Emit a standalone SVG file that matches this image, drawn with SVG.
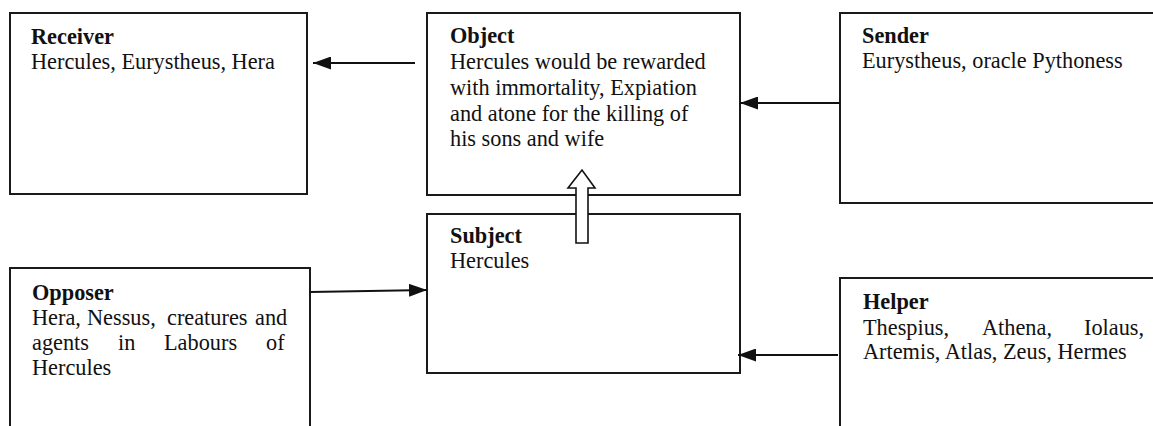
<svg xmlns="http://www.w3.org/2000/svg" width="1153" height="426" viewBox="0 0 1153 426">
<style>
.box{fill:#fff;stroke:#1a1a1a;stroke-width:2}
.t{font-family:"Liberation Serif","Times New Roman",serif;font-size:22.3px;fill:#111}
.b{font-weight:bold}
.ln{stroke:#111;stroke-width:2;fill:none}
</style>
<defs>
<marker id="ah" viewBox="0 0 18 13" refX="18" refY="6.5" markerWidth="18" markerHeight="13" markerUnits="userSpaceOnUse" orient="auto">
<path d="M0,0 L18,6.5 L0,13 Z" fill="#111"/>
</marker>
</defs>
<rect width="1153" height="426" fill="#fff"/>
<g id="receiver">
<rect class="box" x="10" y="13" width="297" height="181"/>
<text class="t b" x="31" y="44">Receiver</text>
<text class="t" x="31" y="69">Hercules, Eurystheus, Hera</text>
</g>
<g id="object">
<rect class="box" x="427" y="13" width="313" height="182"/>
<text class="t b" x="450" y="43">Object</text>
<text class="t" x="450" y="69">Hercules would be rewarded</text>
<text class="t" x="450" y="95">with immortality, Expiation</text>
<text class="t" x="450" y="121">and atone for the killing of</text>
<text class="t" x="450" y="146">his sons and wife</text>
</g>
<g id="sender">
<rect class="box" x="840" y="13" width="330" height="190"/>
<text class="t b" x="862" y="43">Sender</text>
<text class="t" x="862" y="68">Eurystheus, oracle Pythoness</text>
</g>
<g id="subject">
<rect class="box" x="427" y="214" width="313" height="159"/>
<text class="t b" x="450" y="243">Subject</text>
<text class="t" x="450" y="268">Hercules</text>
</g>
<g id="opposer">
<rect class="box" x="10" y="268" width="300" height="180"/>
<text class="t b" x="32" y="300">Opposer</text>
<text class="t" y="325"><tspan x="32">Hera,</tspan><tspan x="87">Nessus,</tspan><tspan x="167">creatures</tspan><tspan x="255">and</tspan></text>
<text class="t" y="350"><tspan x="32">agents</tspan><tspan x="118">in</tspan><tspan x="164">Labours</tspan><tspan x="266">of</tspan></text>
<text class="t" x="32" y="375">Hercules</text>
</g>
<g id="helper">
<rect class="box" x="840" y="278" width="330" height="170"/>
<text class="t b" x="863" y="309">Helper</text>
<text class="t" y="335"><tspan x="863">Thespius,</tspan><tspan x="982">Athena,</tspan><tspan x="1084">Iolaus,</tspan></text>
<text class="t" x="863" y="359">Artemis, Atlas, Zeus, Hermes</text>
</g>
<g id="connectors">
<line class="ln" x1="415" y1="63" x2="313" y2="63" marker-end="url(#ah)"/>
<line class="ln" x1="840" y1="103" x2="740" y2="103" marker-end="url(#ah)"/>
<line class="ln" x1="310" y1="292" x2="427" y2="290" marker-end="url(#ah)"/>
<line class="ln" x1="838" y1="355" x2="738" y2="355" marker-end="url(#ah)"/>
<polygon points="576,243 588,243 588,188 595,188 582,170 568,188 576,188" fill="#fff" stroke="#111" stroke-width="1.6"/>
</g>
</svg>
